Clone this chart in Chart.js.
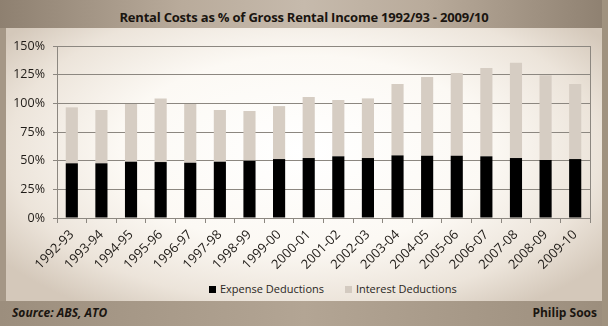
<!DOCTYPE html>
<html lang="en">
<head>
    <meta charset="UTF-8">
    <title>Rental Costs as % of Gross Rental Income</title>
    <script src="https://cdn.jsdelivr.net/npm/chart.js"></script>
    <style>
        html, body { margin: 0; padding: 0; }
        body {
            width: 608px;
            height: 326px;
            position: relative;
            overflow: hidden;
            font-family: "Open Sans", "Noto Sans", sans-serif;
            background: #a59786;
        }
        .band-top {
            position: absolute; left: 0; top: 0; width: 608px; height: 28px;
            background: linear-gradient(to right, #8e8070 0%, #b9ab9b 30%, #c6baac 50%, #b9ab9b 70%, #8e8070 100%);
        }
        .panel {
            position: absolute; left: 6px; top: 28px; width: 596px; height: 273px;
            background: radial-gradient(ellipse 62% 70% at 50% 45%, #ffffff 0%, #fcf9f4 50%, #ece4da 80%, #d4c8ba 100%);
        }
        .band-bottom {
            position: absolute; left: 0; top: 301px; width: 608px; height: 25px;
            background: linear-gradient(to right, #9c8e7d 0%, #b3a594 50%, #9c8e7d 100%);
        }
        .edge-right {
            position: absolute; left: 602px; top: 0; width: 6px; height: 326px;
            background: #a0927f;
        }
        h1 {
            position: absolute; left: 0; top: 8px; width: 608px; margin: 0;
            text-align: center; font-size: 13px; font-weight: bold; color: #1a1510;
            letter-spacing: -0.2px;
        }
        .foot {
            position: absolute; top: 304px; font-size: 12px; font-weight: bold; color: #1a1510;
        }
        .legend {
            position: absolute; top: 281px; left: 209px; font-size: 11px; color: #2a2622;
            white-space: nowrap;
        }
        .legend span.box {
            display: inline-block; width: 7px; height: 7px; margin-right: 4px; vertical-align: 0px;
        }
        canvas { position: absolute; left: 0; top: 0; }
    </style>
</head>
<body>
    <div class="band-top"></div>
    <div class="panel"></div>
    <div class="band-bottom"></div>
    <div class="edge-right"></div>
    <h1>Rental Costs as % of Gross Rental Income 1992/93 - 2009/10</h1>
    <div class="legend">
        <span class="box" style="background:#000"></span>Expense Deductions
        <span class="box" style="background:#d3cac0; margin-left:18px"></span>Interest Deductions
    </div>
    <div class="foot" style="left:12px; font-style:italic">Source: ABS, ATO</div>
    <div class="foot" style="right:11px">Philip Soos</div>
    <div style="position:absolute;left:0;top:0;width:608px;height:326px">
        <canvas id="rentChart" width="608" height="326"></canvas>
    </div>

    <script>
        const years = ['1992-93', '1993-94', '1994-95', '1995-96', '1996-97', '1997-98', '1998-99',
            '1999-00', '2000-01', '2001-02', '2002-03', '2003-04', '2004-05', '2005-06', '2006-07',
            '2007-08', '2008-09', '2009-10'];
        const expenseDeductions = [47.7, 47.7, 49.1, 48.8, 48.2, 49.1, 50.0, 51.4, 52.3, 53.8, 52.3,
            54.6, 54.3, 54.3, 53.8, 52.3, 50.6, 51.4];
        const interestDeductions = [48.8, 46.5, 50.3, 55.5, 51.2, 45.1, 43.3, 46.2, 53.2, 49.1, 52.0,
            62.2, 68.6, 72.1, 77.0, 83.1, 73.8, 65.4];
        const yTicks = [0, 25, 50, 75, 100, 125, 150];

        const plotBorder = {
            id: 'plotBorder',
            afterDraw(chart) {
                const a = chart.chartArea, ctx = chart.ctx;
                ctx.save();
                ctx.strokeStyle = '#8c8780';
                ctx.lineWidth = 1;
                ctx.beginPath();
                ctx.moveTo(Math.round(a.right) + 0.5, a.top);
                ctx.lineTo(Math.round(a.right) + 0.5, a.bottom);
                ctx.stroke();
                ctx.restore();
            }
        };

        new Chart(document.getElementById('rentChart').getContext('2d'), {
            type: 'bar',
            data: {
                labels: years,
                datasets: [
                    { label: 'Expense Deductions', data: expenseDeductions, backgroundColor: '#000000' },
                    { label: 'Interest Deductions', data: interestDeductions, backgroundColor: '#d6cdc3' }
                ]
            },
            options: {
                responsive: false,
                animation: false,
                layout: { padding: { top: 46, right: 18, left: 0, bottom: 0 } },
                datasets: { bar: { categoryPercentage: 1, barPercentage: 0.41 } },
                plugins: { legend: { display: false }, tooltip: { enabled: false } },
                scales: {
                    x: {
                        stacked: true,
                        afterFit: s => { s.height = 108; },
                        grid: { drawOnChartArea: false, color: '#8c8780', tickLength: 5, offset: true },
                        border: { color: '#8c8780' },
                        ticks: {
                            color: '#1f1b17', font: { family: 'Open Sans', size: 13 },
                            minRotation: 45, maxRotation: 45, padding: 4, autoSkip: false
                        }
                    },
                    y: {
                        stacked: true,
                        min: 0, max: 150,
                        afterFit: s => { s.width = 57; },
                        afterBuildTicks: s => { s.ticks = yTicks.map(v => ({ value: v })); },
                        grid: { color: '#8c8780', tickLength: 4 },
                        border: { color: '#8c8780' },
                        ticks: {
                            color: '#1f1b17', font: { family: 'Open Sans', size: 12.5 }, padding: 8,
                            callback: v => v + '%'
                        }
                    }
                }
            },
            plugins: [plotBorder]
        });
    </script>
</body>
</html>
